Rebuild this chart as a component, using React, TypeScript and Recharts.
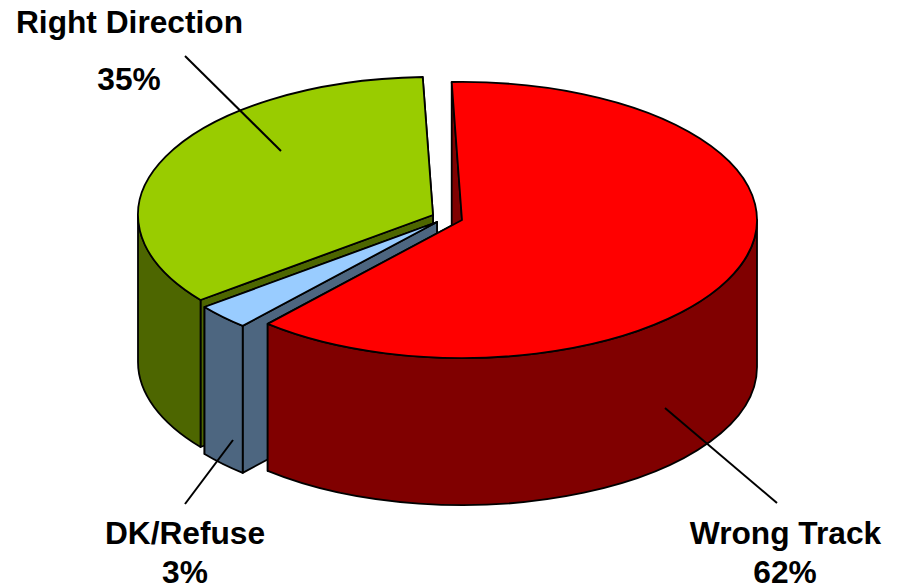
import React from "react";
import { PieChart, Pie } from "recharts";

const categories = ["Right Direction", "DK/Refuse", "Wrong Track"];
const shares = [35, 3, 62];

const chartData = categories.map((name, i) => ({ name, value: shares[i] }));

// Presentation only
const topColors = ["#99CC00", "#99CCFF", "#FF0000"];
const wallColors = ["#4D6600", "#4D6680", "#800000"];
const explodeX = [-12, -8, 17];
const explodeY = [-3, 4, 2];
const SQUASH = 0.468;
const DEPTH = 147;

const labelLayout = [
  { lines: [[129.5, 33], [129, 90]], leader: [185, 56, 281, 151] },
  { lines: [[185, 544], [185, 583]], leader: [185, 504, 233, 440] },
  { lines: [[785.5, 544], [785, 583]], leader: [777, 503, 665, 408] },
];

const rad = (d: number) => (d * Math.PI) / 180;

function Slice3D(props: any) {
  const { cx, cy, outerRadius, startAngle, endAngle, index } = props;
  const ox = cx + explodeX[index];
  const oy = cy + explodeY[index];
  const rx = outerRadius;
  const ry = outerRadius * SQUASH;
  const lo = Math.min(startAngle, endAngle);
  const hi = Math.max(startAngle, endAngle);
  const pt = (a: number, dy = 0): [number, number] => [
    ox + rx * Math.cos(rad(a)),
    oy - ry * Math.sin(rad(a)) + dy,
  ];
  const face = (a: number) => {
    const [x, y] = pt(a);
    return `M${ox},${oy} L${x},${y} L${x},${y + DEPTH} L${ox},${oy + DEPTH} Z`;
  };
  const wLo = Math.max(lo, -180);
  const wHi = Math.min(hi, 0);
  const [hx, hy] = pt(wHi);
  const [lx, ly] = pt(wLo);
  const wallLarge = wHi - wLo > 180 ? 1 : 0;
  const wall = `M${hx},${hy} A${rx},${ry} 0 ${wallLarge} 1 ${lx},${ly} L${lx},${ly + DEPTH} A${rx},${ry} 0 ${wallLarge} 0 ${hx},${hy + DEPTH} Z`;
  const [tx1, ty1] = pt(hi);
  const [tx2, ty2] = pt(lo);
  const topLarge = hi - lo > 180 ? 1 : 0;
  const top = `M${ox},${oy} L${tx1},${ty1} A${rx},${ry} 0 ${topLarge} 1 ${tx2},${ty2} Z`;
  const common = { stroke: "#000", strokeWidth: 1.8, strokeLinejoin: "round" as const };
  return (
    <g>
      <path d={face(lo)} fill={wallColors[index]} {...common} />
      <path d={face(hi)} fill={wallColors[index]} {...common} />
      <path d={wall} fill={wallColors[index]} {...common} />
      <path d={top} fill={topColors[index]} {...common} />
    </g>
  );
}

function SliceLabel(props: any) {
  const { index } = props;
  const layout = labelLayout[index];
  const [x1, y1, x2, y2] = layout.leader;
  const texts = [categories[index], `${shares[index]}%`];
  return (
    <g>
      <line x1={x1} y1={y1} x2={x2} y2={y2} stroke="#000" strokeWidth={2} />
      {texts.map((t, i) => (
        <text
          key={t}
          x={layout.lines[i][0]}
          y={layout.lines[i][1]}
          textAnchor="middle"
          fontFamily="'Liberation Sans', Arial, sans-serif"
          fontWeight={700}
          fontSize={31.7}
          fill="#000"
        >
          {t}
        </text>
      ))}
    </g>
  );
}

export default function App() {
  return (
    <div style={{ position: "absolute", left: 0, top: 0, width: 899, height: 586, background: "#fff" }}>
      <PieChart width={899} height={586} margin={{ top: 0, right: 0, bottom: 0, left: 0 }}>
        <Pie
          data={chartData}
          dataKey="value"
          nameKey="name"
          cx={445}
          cy={218}
          innerRadius={0}
          outerRadius={295}
          startAngle={-268}
          endAngle={92}
          paddingAngle={0}
          isAnimationActive={false}
          shape={Slice3D}
          label={SliceLabel}
          labelLine={false}
        />
      </PieChart>
    </div>
  );
}
